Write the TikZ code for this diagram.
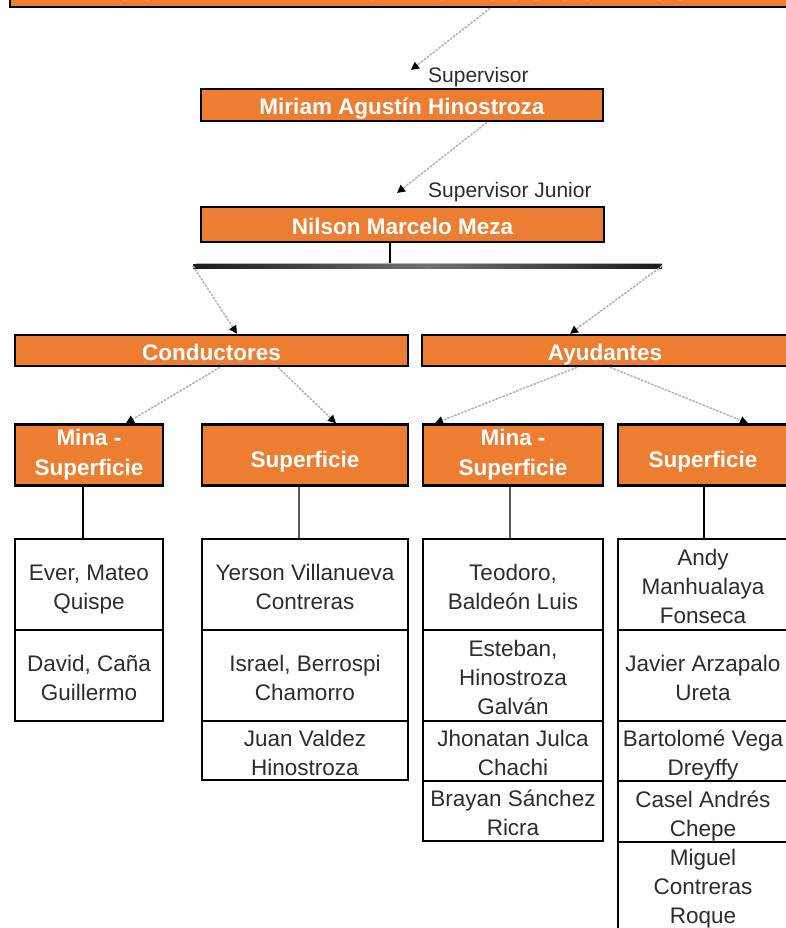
\documentclass[tikz,border=0pt]{standalone}
\usepackage{fontspec}
\setmainfont{Liberation Sans}
\usetikzlibrary{arrows.meta,calc}
\definecolor{orangeC}{RGB}{237,125,49}
\definecolor{textC}{RGB}{45,45,45}
\newcommand{\celltext}[2][-4.5pt]{\raisebox{#1}[\height][\depth]{\begin{tabular}{@{}c@{}}#2\end{tabular}}}
\tikzset{
  obox/.style={draw=black, line width=2.5pt, fill=orangeC, text=white, font=\bfseries\fontsize{22.5}{30}\selectfont, inner sep=0pt, align=center},
  oboxs/.style={obox, text height=19.5pt, text depth=0.5pt},
  cell/.style={draw=black, line width=2.5pt, fill=white, text=textC, font=\fontsize{22.5}{29}\selectfont, inner sep=0pt},
  lbl/.style={font=\fontsize{21}{24}\selectfont, text=textC, inner sep=0pt, anchor=west},
  conn/.style={draw=gray!60, line width=1.5pt, dash pattern=on 2.5pt off 1.2pt, -{Triangle[length=8pt,width=8pt,black]}},
  vline/.style={draw=black, line width=2pt},
  gline/.style={draw=gray!70!black, line width=2pt}
}
\begin{document}
\begin{tikzpicture}[x=1pt,y=-1pt]
\useasboundingbox (0,0) rectangle (786,928);
\clip (0,0) rectangle (786,928);
% top
\node[obox, minimum width=778, minimum height=40] (top) at (399,-13) {};
\node[font=\bfseries\fontsize{30}{30}\selectfont, text=white, anchor=base, inner sep=0pt] (toptxt) at (402,0.5) {CONTRATA MINAS RESIDUOS SÓLIDOS};
% level 1
\node[oboxs, minimum width=402, minimum height=32] (miriam) at (402,105) {Miriam Agustín Hinostroza};
\node[oboxs, minimum width=403, minimum height=35] (nilson) at (402.5,224.5) {Nilson Marcelo Meza};
\coordinate (a1end) at (411,70);
\coordinate (a2end) at (397,193);
\node[lbl] (lsup) at (428,77) {Supervisor};
\node[lbl] (lsupj) at (428,192) {Supervisor Junior};
\draw[conn] ([xshift=91pt]top.south) -- (a1end);
\draw[conn] ([xshift=85pt]miriam.south) -- (a2end);
% bar
\coordinate (barL) at (193,266);
\coordinate (barR) at (662,266);
\coordinate (barM) at (390,266);
\draw[vline, line width=2.5pt] ([xshift=-12.5pt]nilson.south) -- (barM);
\shade[left color=black!90, right color=black!90, middle color=gray!90!black] (193,264.5) rectangle (662,268);
\draw[gray!60, line width=1pt] (196,263.5) -- (662,263.5);
% level 2
\node[oboxs, minimum width=393, minimum height=31] (cond) at (211.5,350.5) {Conductores};
\node[oboxs, minimum width=366, minimum height=31] (ayud) at (605,350.5) {Ayudantes};
\draw[conn] (barL) -- ([xshift=25.5pt]cond.north);
\draw[conn] (barR) -- ([xshift=-35pt]ayud.north);
% level 3
\node[obox, minimum width=148, minimum height=61] (c1) at (89,455) {Mina -\\Superficie};
\node[obox, minimum width=206, minimum height=61] (c2) at (305,455) {~\\Superficie};
\node[obox, minimum width=180, minimum height=61] (a1) at (513,455) {Mina -\\Superficie};
\node[obox, minimum width=170, minimum height=61] (a2) at (703,455) {~\\Superficie};
\draw[conn] ([xshift=8.5pt]cond.south) -- ([xshift=37pt]c1.north);
\draw[conn] ([xshift=66.5pt]cond.south) -- ([xshift=31pt]c2.north);
\draw[conn] ([xshift=-28pt]ayud.south) -- ([xshift=-78pt]a1.north);
\draw[conn] ([xshift=5pt]ayud.south) -- ([xshift=45pt]a2.north);
% lists: conductores mina-superficie
\node[cell, minimum width=148, minimum height=91] (c1a) at (89,584.5) {\celltext{Ever, Mateo\\Quispe}};
\node[cell, minimum width=148, minimum height=91] (c1b) at (89,675.5) {\celltext{David, Caña\\Guillermo}};
% conductores superficie
\node[cell, minimum width=206, minimum height=91] (c2a) at (305,584.5) {\celltext{Yerson Villanueva\\Contreras}};
\node[cell, minimum width=206, minimum height=91] (c2b) at (305,675.5) {\celltext{Israel, Berrospi\\Chamorro}};
\node[cell, minimum width=206, minimum height=59] (c2c) at (305,750.5) {\celltext{Juan Valdez\\Hinostroza}};
% ayudantes mina-superficie
\node[cell, minimum width=180, minimum height=91] (a1a) at (513,584.5) {\celltext{Teodoro,\\Baldeón Luis}};
\node[cell, minimum width=180, minimum height=91] (a1b) at (513,675.5) {\celltext{Esteban,\\Hinostroza\\Galván}};
\node[cell, minimum width=180, minimum height=60] (a1c) at (513,751) {\celltext{Jhonatan Julca\\Chachi}};
\node[cell, minimum width=180, minimum height=60] (a1d) at (513,811) {\celltext{Brayan Sánchez\\Ricra}};
% ayudantes superficie
\node[cell, minimum width=170, minimum height=91] (a2a) at (703,584.5) {\celltext{Andy\\Manhualaya\\Fonseca}};
\node[cell, minimum width=170, minimum height=91] (a2b) at (703,675.5) {\celltext{Javier Arzapalo\\Ureta}};
\node[cell, minimum width=170, minimum height=60] (a2c) at (703,751) {\celltext{Bartolomé Vega\\Dreyffy}};
\node[cell, minimum width=170, minimum height=61] (a2d) at (703,811.5) {\celltext{Casel Andrés\\Chepe}};
\node[cell, minimum width=170, minimum height=93] (a2e) at (703,888.5) {\celltext[-0.5pt]{Miguel\\Contreras\\Roque}};
% vertical links
\draw[vline] ([xshift=-6pt]c1.south) -- ([xshift=-6pt]c1a.north);
\draw[gline] ([xshift=-6pt]c2.south) -- ([xshift=-6pt]c2a.north);
\draw[gline] ([xshift=-3pt]a1.south) -- ([xshift=-3pt]a1a.north);
\draw[vline] ([xshift=1pt]a2.south) -- ([xshift=1pt]a2a.north);
\end{tikzpicture}
\end{document}
